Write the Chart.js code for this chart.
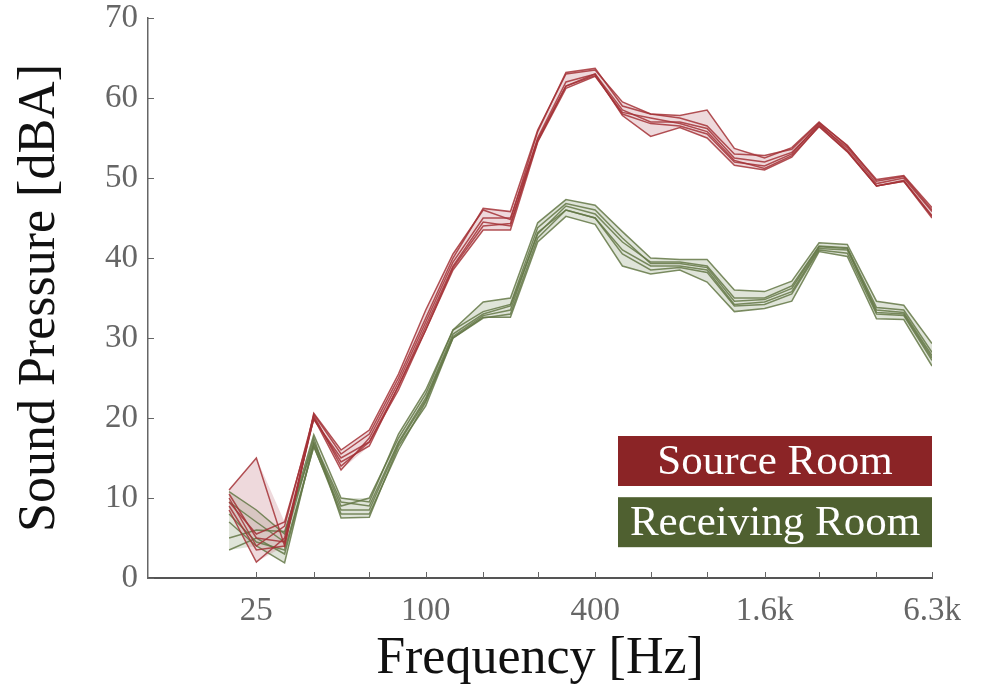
<!DOCTYPE html>
<html>
<head>
<meta charset="utf-8">
<title>Sound Pressure</title>
<script src="https://cdn.jsdelivr.net/npm/chart.js@4.4.1/dist/chart.umd.min.js"></script>
<style>
  html, body { margin: 0; padding: 0; background: #fff; }
  #wrap { width: 981px; height: 697px; }
</style>
</head>
<body>
<div id="wrap"><canvas id="spl"></canvas></div>
<script>
// third-octave band centres [Hz]
var bands = [20, 25, 31.5, 40, 50, 63, 80, 100, 125, 160, 200, 250, 315, 400, 500, 630, 800, 1000, 1250, 1600, 2000, 2500, 3150, 4000, 5000, 6300];

// tick positions and which ones get a label
var xTicks = [25, 40, 63, 100, 160, 250, 400, 630, 1000, 1600, 2500, 4000, 6300];
var xLabels = { 25: '25', 100: '100', 400: '400', 1600: '1.6k', 6300: '6.3k' };
var yTicks = [0, 10, 20, 30, 40, 50, 60, 70];

// source room, one row per measurement position [dBA]
var source1 = [11, 15, 4, 20.5, 15.5, 18, 25, 32.5, 40, 46.2, 45.8, 56, 63, 63.5, 59.5, 58, 57.8, 58.5, 53.7, 52.5, 53.8, 57, 54, 49.8, 50.3, 46.3];
var source2 = [10, 4, 6.5, 20.3, 14, 17, 24, 31.5, 39, 44.5, 44, 55, 62, 63, 58.5, 57, 57, 56.2, 52.5, 52, 53.2, 56.6, 53.8, 49.3, 50, 45.8];
var source3 = [8.5, 2, 5, 20, 13.5, 17.5, 24.5, 32, 39.5, 45, 45, 54.8, 61.5, 62.8, 58, 56.8, 56.5, 55.5, 52, 51.5, 53, 56.8, 53.5, 49, 49.7, 45.3];
var source4 = [9.5, 5.5, 7, 19.8, 15, 17, 23.5, 31, 38.5, 43.5, 43.5, 54.5, 61.2, 62.7, 58.2, 57.5, 56.8, 55.8, 52.2, 51.2, 52.8, 56.4, 53.3, 49, 49.6, 45.2];
var source5 = [9, 3.5, 4, 20.6, 16, 18.5, 25.5, 33.5, 40.5, 46, 44.8, 55.8, 63.2, 63.7, 59, 58, 57.5, 56.5, 53, 52.8, 53.6, 56.9, 54.1, 49.6, 50.2, 46];
var source6 = [10.5, 5, 4.5, 20, 14.5, 16.5, 24, 31, 38.8, 44, 44.3, 54.6, 61.5, 63, 57.8, 55.2, 56.3, 55, 51.6, 51, 52.6, 56.5, 53.3, 49, 49.6, 45];

// receiving room
var recv1 = [10.8, 8.5, 5.5, 17.9, 10, 9.5, 18, 23.5, 31, 34.5, 35, 44.4, 47.3, 46.6, 43.3, 40, 39.8, 39.8, 36, 35.8, 37.1, 41.9, 41.7, 34.6, 34.1, 29.3];
var recv2 = [3.5, 5, 3, 16.5, 8, 8, 16, 22, 30, 32.5, 33, 42.5, 46, 45, 41, 39, 39, 38.5, 34.2, 34.5, 35.8, 41.2, 41, 33.5, 33.2, 27.8];
var recv3 = [7, 4, 1.9, 17, 9.5, 9, 17, 22.5, 30.5, 33, 34, 43, 46.5, 45.5, 42, 39.5, 39.5, 39, 35, 35, 36.5, 41.5, 41.3, 33.8, 33.5, 28.2];
var recv4 = [9.5, 7, 4.5, 17.5, 7.5, 7.6, 16.5, 21.5, 30, 32.6, 32.6, 42, 45.2, 44.2, 39, 38, 38.5, 37, 33.3, 33.7, 34.6, 40.8, 40.2, 32.4, 32.3, 26.5];
var recv5 = [5, 6, 5.8, 16.8, 9, 10, 17.5, 23, 31, 33.3, 34.2, 43.8, 46.8, 46, 42.5, 39.3, 39.3, 38.8, 34.6, 34.8, 36.2, 41.4, 41.2, 33.2, 33, 27.5];
var recv6 = [8, 4.5, 3.5, 16.4, 8.5, 8.5, 16.8, 22.2, 30.2, 32.8, 33.5, 43.2, 46, 45, 40.5, 38.5, 38.8, 38.2, 34, 34.2, 35.5, 41, 40.6, 33, 32.8, 27.2];

var sourceRuns = [source1, source2, source3, source4, source5, source6];
var recvRuns = [recv1, recv2, recv3, recv4, recv5, recv6];

var RED_LINE = 'rgba(165, 50, 55, 0.85)';
var RED_FILL = 'rgba(200, 130, 140, 0.3)';
var RED_BOX = '#8b2426';
var GREEN_LINE = 'rgba(100, 120, 70, 0.85)';
var GREEN_FILL = 'rgba(150, 165, 130, 0.3)';
var GREEN_BOX = '#4f6030';
var SERIF = '"Liberation Serif", "DejaVu Serif", serif';

function toPoints(vals) {
    return vals.map(function(v, i) {
        return { x: bands[i], y: v };
    });
}

// envelope of all runs in a room
function envelope(runs, fn) {
    return bands.map(function(f, i) {
        return { x: f, y: fn.apply(null, runs.map(function(r) { return r[i]; })) };
    });
}

var datasets = [];
sourceRuns.forEach(function(r) {
    datasets.push({ data: toPoints(r), borderColor: RED_LINE, borderWidth: 1.5, pointRadius: 0, fill: false, order: 1 });
});
recvRuns.forEach(function(r) {
    datasets.push({ data: toPoints(r), borderColor: GREEN_LINE, borderWidth: 1.5, pointRadius: 0, fill: false, order: 1 });
});
// shaded bands (max filled down to min)
datasets.push({ data: envelope(sourceRuns, Math.max), borderWidth: 0, pointRadius: 0, backgroundColor: RED_FILL, fill: '+1', order: 2 });
datasets.push({ data: envelope(sourceRuns, Math.min), borderWidth: 0, pointRadius: 0, fill: false, order: 2 });
datasets.push({ data: envelope(recvRuns, Math.max), borderWidth: 0, pointRadius: 0, backgroundColor: GREEN_FILL, fill: '+1', order: 2 });
datasets.push({ data: envelope(recvRuns, Math.min), borderWidth: 0, pointRadius: 0, fill: false, order: 2 });

// small inward tick marks and the two legend boxes
var decorations = {
    id: 'decorations',
    afterDraw: function(chart) {
        var ctx = chart.ctx;
        var area = chart.chartArea;
        var xs = chart.scales.x, ys = chart.scales.y;
        ctx.save();
        ctx.strokeStyle = '#666';
        ctx.lineWidth = 1;
        xTicks.forEach(function(t) {
            var px = Math.round(xs.getPixelForValue(t)) + 0.5;
            ctx.beginPath();
            ctx.moveTo(px, area.bottom);
            ctx.lineTo(px, area.bottom - 6);
            ctx.stroke();
        });
        yTicks.forEach(function(t) {
            var py = Math.round(ys.getPixelForValue(t)) + 0.5;
            ctx.beginPath();
            ctx.moveTo(area.left, py);
            ctx.lineTo(area.left + 6, py);
            ctx.stroke();
        });

        var boxes = [
            { text: 'Source Room', color: RED_BOX, y: ys.getPixelForValue(17.75) },
            { text: 'Receiving Room', color: GREEN_BOX, y: ys.getPixelForValue(10.1) }
        ];
        var bw = 314, bh = 50;
        boxes.forEach(function(b) {
            var bx = area.right - bw;
            ctx.fillStyle = b.color;
            ctx.fillRect(bx, b.y, bw, bh);
            ctx.fillStyle = '#fff';
            ctx.font = '43px ' + SERIF;
            ctx.textAlign = 'center';
            ctx.textBaseline = 'middle';
            ctx.fillText(b.text, bx + bw / 2, b.y + bh / 2 + 2);
        });
        ctx.restore();
    }
};

new Chart(document.getElementById('spl'), {
    type: 'line',
    data: { datasets: datasets },
    options: {
        responsive: true,
        maintainAspectRatio: false,
        animation: false,
        events: [],
        layout: { padding: { top: 18, right: 49, left: 0, bottom: 0 } },
        plugins: {
            legend: { display: false },
            tooltip: { enabled: false }
        },
        scales: {
            x: {
                type: 'logarithmic',
                min: 10.3,
                max: 6300,
                afterBuildTicks: function(scale) {
                    scale.ticks = xTicks.map(function(v) { return { value: v }; });
                },
                afterFit: function(scale) {
                    scale.height = 119;
                    scale.paddingLeft = 0;
                    scale.paddingRight = 0;
                },
                ticks: {
                    autoSkip: false,
                    maxRotation: 0,
                    padding: 14,
                    color: '#666',
                    font: { family: SERIF, size: 33 },
                    callback: function(v) { return xLabels[v] || ''; }
                },
                grid: { display: false, drawTicks: false },
                border: { display: true, color: '#555', width: 2 },
                title: {
                    display: true,
                    text: 'Frequency [Hz]',
                    color: '#111',
                    font: { family: SERIF, size: 52 },
                    padding: { top: 0, bottom: 6 }
                }
            },
            y: {
                min: 0,
                max: 70,
                afterBuildTicks: function(scale) {
                    scale.ticks = yTicks.map(function(v) { return { value: v }; });
                },
                afterFit: function(scale) {
                    scale.width = 148;
                    scale.paddingTop = 0;
                    scale.paddingBottom = 0;
                },
                ticks: {
                    padding: 10,
                    color: '#666',
                    font: { family: SERIF, size: 33 }
                },
                grid: { display: false, drawTicks: false },
                border: { display: true, color: '#666', width: 1.5 },
                title: {
                    display: true,
                    text: 'Sound Pressure [dBA]',
                    color: '#111',
                    font: { family: SERIF, size: 52 },
                    padding: { top: 9, bottom: 0 }
                }
            }
        }
    },
    plugins: [decorations]
});
</script>
</body>
</html>
